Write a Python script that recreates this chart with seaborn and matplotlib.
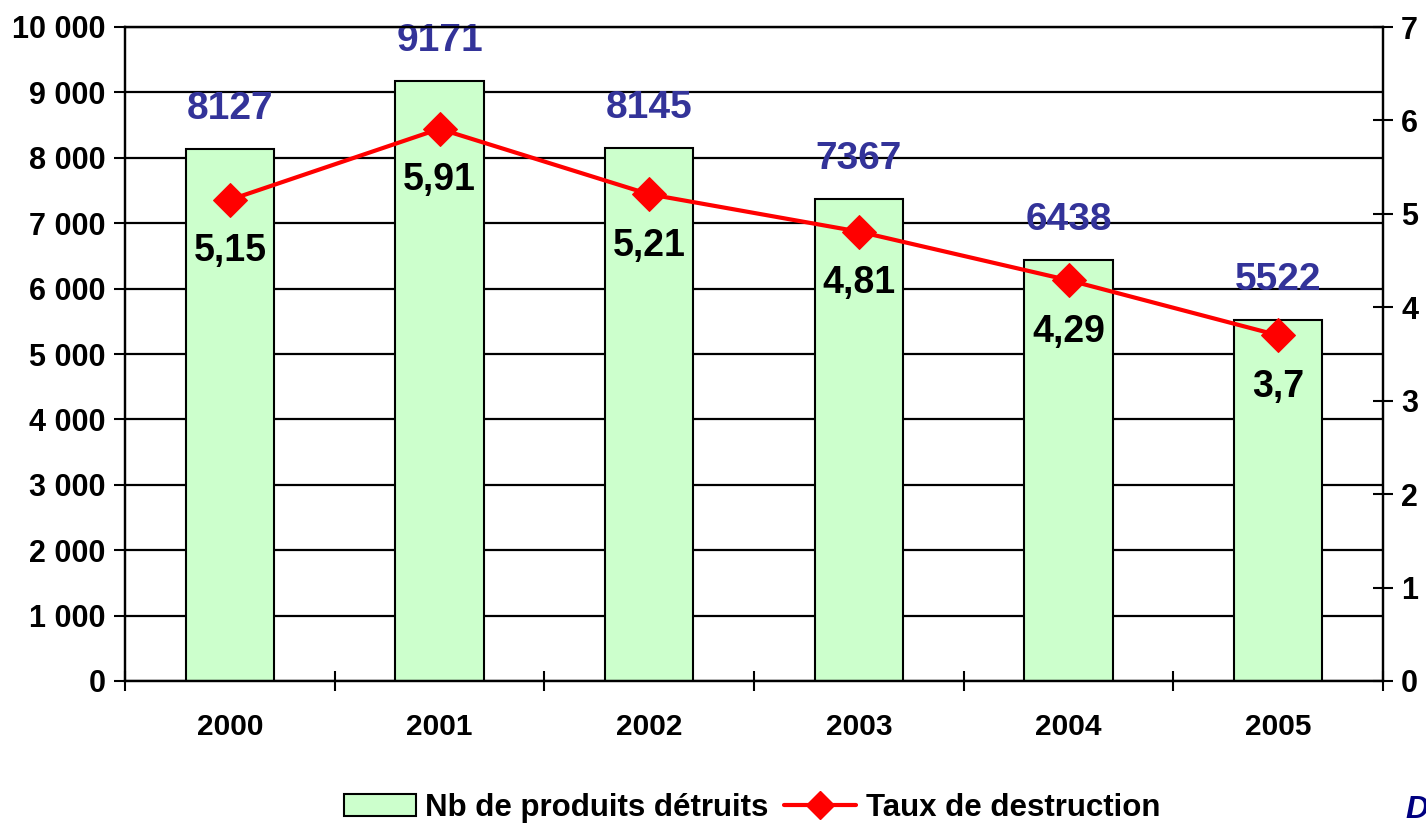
import matplotlib
matplotlib.use("Agg")
import matplotlib.pyplot as plt
import seaborn as sns
import numpy as np
import pandas as pd
from matplotlib.patches import Patch
from matplotlib.lines import Line2D
from matplotlib.ticker import FuncFormatter, FixedLocator

years = ["2000", "2001", "2002", "2003", "2004", "2005"]
produits = [8127, 9171, 8145, 7367, 6438, 5522]
taux = [5.15, 5.91, 5.21, 4.81, 4.29, 3.7]
taux_labels = ["5,15", "5,91", "5,21", "4,81", "4,29", "3,7"]
bar_name = "Nb de produits détruits"
line_name = "Taux de destruction"

sns.set_theme(style="white")
plt.rcParams["font.family"] = ["Liberation Sans", "DejaVu Sans"]
plt.rcParams["font.weight"] = "bold"
plt.rcParams["text.color"] = "black"
plt.rcParams["axes.labelcolor"] = "black"
plt.rcParams["xtick.color"] = "black"
plt.rcParams["ytick.color"] = "black"

fig = plt.figure(figsize=(14.26, 8.25), dpi=100)
ax = fig.add_axes([125/1426, 1-681/825, (1383-125)/1426, (681-27)/825])

df = pd.DataFrame({"year": years, "n": produits})
sns.barplot(data=df, x="year", y="n", ax=ax, color="#CCFFCC", saturation=1,
            width=0.42, edgecolor="black", linewidth=1.5, zorder=2)
ax.set_xlim(-0.5, 5.5)
ax.set_ylim(0, 10000)
ax.set_yticks(np.arange(0, 10001, 1000))
ax.yaxis.set_major_formatter(FuncFormatter(lambda v, p: f"{int(v):,}".replace(",", " ")))
ax.grid(axis="y", color="black", linewidth=1.6, zorder=0)
ax.set_axisbelow(True)
ax.set_xlabel("")
ax.set_ylabel("")
for s in ax.spines.values():
    s.set_color("black")
    s.set_linewidth(1.6)
ax.tick_params(axis="y", which="major", direction="out", length=8, width=1.5,
               labelsize=22, pad=6, left=True, colors="black")
ax.tick_params(axis="x", which="major", length=0, labelsize=21.5, pad=23, colors="black")
ax.xaxis.set_minor_locator(FixedLocator(np.arange(-0.5, 6, 1)))
ax.tick_params(axis="x", which="minor", direction="inout", length=14, width=1.5,
               bottom=True, colors="black")
for lab in ax.get_xticklabels() + ax.get_yticklabels():
    lab.set_fontweight("bold")

for i, v in enumerate(produits):
    ax.annotate(str(v), (i, v), xytext=(0, 29), textcoords="offset points",
                ha="center", va="center", fontsize=28, fontweight="bold",
                color="#333399", zorder=5)

ax2 = ax.twinx()
sns.lineplot(x=np.arange(len(taux)), y=taux, ax=ax2, color="#FF0000",
             linewidth=3, marker="D", markersize=17, markeredgecolor="#FF0000", zorder=4)
ax2.set_ylim(0, 7)
ax2.set_yticks(range(0, 8))
ax2.tick_params(axis="y", direction="inout", length=14, width=1.5, labelsize=22,
                pad=6, right=True, colors="black")
for lab in ax2.get_yticklabels():
    lab.set_fontweight("bold")
for s in ax2.spines.values():
    s.set_color("black")
    s.set_linewidth(1.6)
ax2.set_ylabel("")
for i, v in enumerate(taux):
    ax2.annotate(taux_labels[i], (i, v), xytext=(0, -37), textcoords="offset points",
                 ha="center", va="center", fontsize=27, fontweight="bold",
                 color="black", zorder=5)

handles = [Patch(facecolor="#CCFFCC", edgecolor="black", linewidth=1.5),
           Line2D([0], [0], color="#FF0000", linewidth=3, marker="D", markersize=14)]
leg = fig.legend(handles, [bar_name, line_name], loc="center",
                 bbox_to_anchor=(752/1426, 1-808/825), ncol=2, frameon=False,
                 prop={"size": 22.5, "weight": "bold"}, handlelength=2.3,
                 handletextpad=0.3, columnspacing=0.5)
for t in leg.get_texts():
    t.set_color("black")

fig.text(1405/1426, 1-810/825, "D", fontsize=23, fontweight="bold", style="italic",
         color="#000080", ha="left", va="center")

fig.savefig("out.png", dpi=100)
